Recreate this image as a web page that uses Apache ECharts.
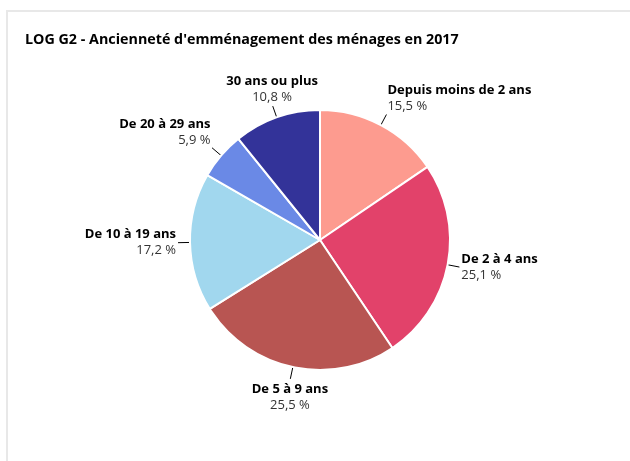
<!DOCTYPE html>
<html>
<head>
<meta charset="utf-8">
<script src="https://cdn.jsdelivr.net/npm/echarts@6/dist/echarts.min.js"></script>
<style>
	html, body { margin: 0; padding: 0; background: #fff; }
	#frame { position: absolute; left: 6px; top: 10px; width: 630px; height: 460px;
		border-top: 2px solid #e8e8e8; border-left: 2px solid #e8e8e8; }
	#chart { position: absolute; left: 0; top: 0; width: 630px; height: 461px; }
</style>
</head>
<body>
<div id="frame"></div>
<div id="chart"></div>
<script>
// données du graphique
var categories = ['Depuis moins de 2 ans', 'De 2 à 4 ans', 'De 5 à 9 ans', 'De 10 à 19 ans', 'De 20 à 29 ans', '30 ans ou plus'];
var values = [15.5, 25.1, 25.5, 17.2, 5.9, 10.8];
var colors = ['#fd9b8f', '#e2426a', '#b85552', '#a1d7ee', '#6a89e6', '#333399'];

var chart = echarts.init(document.getElementById('chart'));

var pieData = categories.map(function(name, i) {
	return { name: name, value: values[i], itemStyle: { color: colors[i] } };
});

function fmt(v) {
	return v.toFixed(1).replace('.', ',') + ' %';
}

var option = {
	animation: false,
	title: {
		text: "LOG G2 - Ancienneté d'emménagement des ménages en 2017",
		left: 20,
		top: 28,
		textStyle: { fontFamily: 'Open Sans', fontSize: 14.3, fontWeight: 'bold', color: '#000' }
	},
	series: [{
		type: 'pie',
		center: [320, 240],
		radius: 130,
		startAngle: 90,
		clockwise: true,
		data: pieData,
		itemStyle: { borderColor: '#fff', borderWidth: 2 },
		label: {
			show: true,
			position: 'outside',
			distanceToLabelLine: 2,
			formatter: function(p) {
				return '{n|' + p.name + '}\n{v|' + fmt(p.value) + '}';
			},
			rich: {
				n: { fontFamily: 'Open Sans', fontSize: 13, fontWeight: 'bold', color: '#000', lineHeight: 16 },
				v: { fontFamily: 'Open Sans', fontSize: 13, color: '#333', lineHeight: 16 }
			}
		},
		labelLine: {
			show: true,
			length: 12,
			length2: 0,
			lineStyle: { color: '#000', width: 1 }
		},
		emphasis: { disabled: true },
		// placement des étiquettes au bout du trait, selon l'angle
		labelLayout: function(params) {
			var pts = params.labelLinePoints;
			if (!pts) return {};
			var dx = pts[1][0] - pts[0][0], dy = pts[1][1] - pts[0][1];
			var len = Math.sqrt(dx * dx + dy * dy) || 1;
			var ux = dx / len, uy = dy / len;
			var end = pts[pts.length - 1];
			var h = params.labelRect.height;
			var align = ux > 0.4 ? 'left' : (ux < -0.4 ? 'right' : 'center');
			var offY = uy < -0.4 ? -h / 2 : (uy > 0.4 ? h / 2 + 2 : 0);
			return {
				x: end[0] + ux * 2,
				y: end[1] + uy * 2 + offY,
				align: align,
				verticalAlign: 'middle',
				labelLinePoints: pts
			};
		}
	}]
};

chart.setOption(option);
</script>
</body>
</html>
